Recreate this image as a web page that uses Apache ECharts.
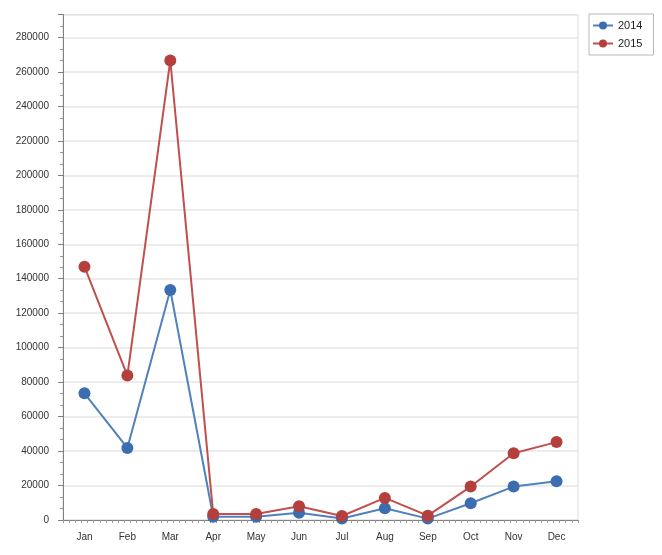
<!DOCTYPE html>
<html><head><meta charset="utf-8">
<script src="https://cdn.jsdelivr.net/npm/echarts@6/dist/echarts.min.js"></script>
<style>html,body{margin:0;padding:0;background:#fff}#c{width:662px;height:555px}</style>
</head><body><div id="c"></div>
<script>
var categories = ['Jan','Feb','Mar','Apr','May','Jun','Jul','Aug','Sep','Oct','Nov','Dec'];
var series2014 = [73500, 41800, 133500, 1900, 1900, 4200, 900, 6800, 800, 9700, 19400, 22500];
var series2015 = [147000, 83800, 266700, 3500, 3500, 8000, 2300, 12800, 2500, 19400, 38700, 45200];
var seriesNames = ['2014', '2015'];
var yTicks = {min: 0, max: 293333, interval: 20000};

var font = 'Liberation Sans';
var chart = echarts.init(document.getElementById('c'));
chart.setOption({
  animation: false,
  backgroundColor: '#fff',
  color: ['#4a7ebb', '#be4b48'],
  grid: {left: 63, right: 84, top: 14.5, bottom: 35, show: true, borderColor: '#dcdcdc', borderWidth: 1},
  legend: {
    left: 589, top: 14, orient: 'vertical',
    data: seriesNames,
    itemWidth: 20, itemHeight: 10, itemGap: 7,
    padding: [6, 11, 6, 3],
    borderColor: '#b8b8b8', borderWidth: 1,
    textStyle: {fontFamily: font, fontSize: 11, color: '#222'}
  },
  xAxis: [{
    type: 'category', data: categories, boundaryGap: true,
    axisLine: {lineStyle: {color: '#808080', width: 1}},
    axisTick: {alignWithLabel: true, length: 5, lineStyle: {color: '#808080'}},
    axisLabel: {fontFamily: font, fontSize: 10, color: '#333', margin: 12},
    splitLine: {show: false}
  }, {
    type: 'value', min: 0, max: 84, interval: 1, position: 'bottom',
    axisLine: {show: false},
    axisTick: {show: true, length: 3, lineStyle: {color: '#9a9a9a'}},
    axisLabel: {show: false},
    splitLine: {show: false}
  }],
  yAxis: {
    type: 'value', min: yTicks.min, max: yTicks.max, interval: yTicks.interval,
    axisLine: {show: true, lineStyle: {color: '#808080', width: 1}},
    axisTick: {show: true, length: 5, lineStyle: {color: '#808080'}},
    minorTick: {show: true, splitNumber: 3, length: 3, lineStyle: {color: '#9a9a9a'}},
    axisLabel: {fontFamily: font, fontSize: 10, color: '#333', margin: 14, showMaxLabel: false,
      formatter: function (v) { return String(v); }},
    splitLine: {show: true, lineStyle: {color: '#e6e6e6', width: 1.5}}
  },
  series: [{
    name: seriesNames[0], type: 'line', data: series2014, xAxisIndex: 0,
    symbol: 'circle', symbolSize: 12,
    lineStyle: {width: 2, color: '#4f81bd'},
    itemStyle: {color: '#3b6db0'}
  }, {
    name: seriesNames[1], type: 'line', data: series2015, xAxisIndex: 0,
    symbol: 'circle', symbolSize: 12,
    lineStyle: {width: 2, color: '#c0504d'},
    itemStyle: {color: '#b3403d'}
  }]
});
</script></body></html>
